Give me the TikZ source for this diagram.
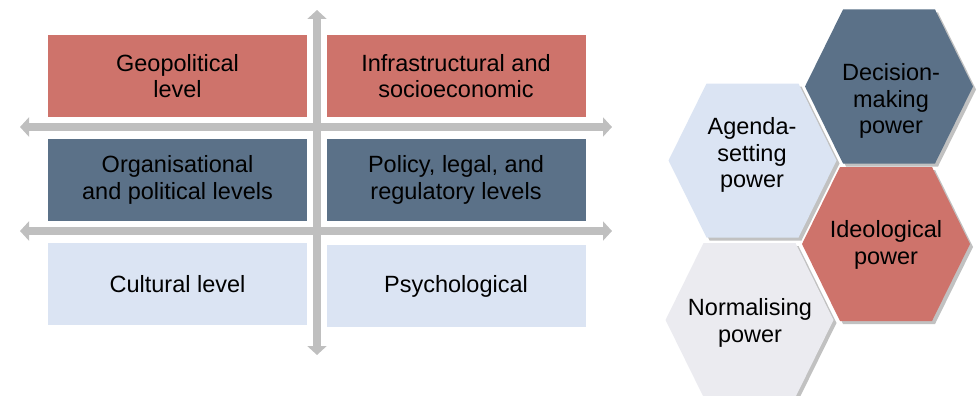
\documentclass[tikz,border=0pt]{standalone}
\usepackage{fontspec}
\setmainfont{Liberation Sans}
\usetikzlibrary{arrows.meta,shadows}

\definecolor{levelred}{RGB}{206,115,107}
\definecolor{levelblue}{RGB}{91,113,136}
\definecolor{levellight}{RGB}{219,228,243}
\definecolor{powergray}{RGB}{235,235,240}
\definecolor{axisgray}{RGB}{191,191,191}

\tikzset{
  levelbox/.style={minimum width=259pt, minimum height=82pt, inner sep=0pt, align=center},
  axis/.style={draw=axisgray, line width=8.5pt,
    {Triangle[length=9pt,width=19pt]}-{Triangle[length=9pt,width=19pt]}},
  hexcell/.style={drop shadow={shadow xshift=3pt, shadow yshift=-3pt, opacity=0.35, fill=black!70}},
  hextext/.style={align=center, inner sep=0pt}
}

\begin{document}
\begin{tikzpicture}[x=1pt, y=-1pt, font=\fontsize{23.5}{26.6}\selectfont]
  \useasboundingbox (0,0) rectangle (977,396);
  \clip (0,0) rectangle (977,396);
  % levels
  \node[levelbox, fill=levelred] (geo) at (177.5,76) {Geopolitical\\level};
  \node[levelbox, fill=levelred] (infra) at (456,76) {Infrastructural and\\socioeconomic};
  \node[levelbox, fill=levelblue] (org) at (177.5,180) {Organisational\\and political levels};
  \node[levelbox, fill=levelblue] (policy) at (456,180) {Policy, legal, and\\regulatory levels};
  \node[levelbox, fill=levellight] (cult) at (177.5,284) {Cultural level};
  \node[levelbox, fill=levellight] (psych) at (456,286) {Psychological};
  % axes
  \coordinate (west1) at (20,127);
  \coordinate (east1) at (612,127);
  \coordinate (west2) at (20,231);
  \coordinate (east2) at (612,231);
  \coordinate (north) at (317,10);
  \coordinate (south) at (317,355);
  \draw[axis] (west1) -- (east1);
  \draw[axis] (west2) -- (east2);
  \draw[axis] (north) -- (south);
  % powers
  \fill[hexcell, fill=levelblue] (889,86.5) ++(-84,0) -- ++(38,-77) -- ++(92,0)
    -- ++(38,77) -- ++(-38,77) -- ++(-92,0) -- cycle;
  \fill[hexcell, fill=levelred] (886,244) ++(-84,0) -- ++(38,-77) -- ++(92,0)
    -- ++(38,77) -- ++(-38,77) -- ++(-92,0) -- cycle;
  \fill[hexcell, fill=levellight] (752.5,160.5) ++(-84,0) -- ++(38,-77) -- ++(92,0)
    -- ++(38,77) -- ++(-38,77) -- ++(-92,0) -- cycle;
  \fill[hexcell, fill=powergray] (749.5,320) ++(-84,0) -- ++(38,-77) -- ++(92,0)
    -- ++(38,77) -- ++(-38,77) -- ++(-92,0) -- cycle;
  \node[hextext] (decision) at (891,101) {Decision-\\making\\power};
  \node[hextext] (ideo) at (886,245) {Ideological\\power};
  \node[hextext] (agenda) at (752,155) {Agenda-\\setting\\power};
  \node[hextext] (norm) at (750,323) {Normalising\\power};
\end{tikzpicture}
\end{document}
